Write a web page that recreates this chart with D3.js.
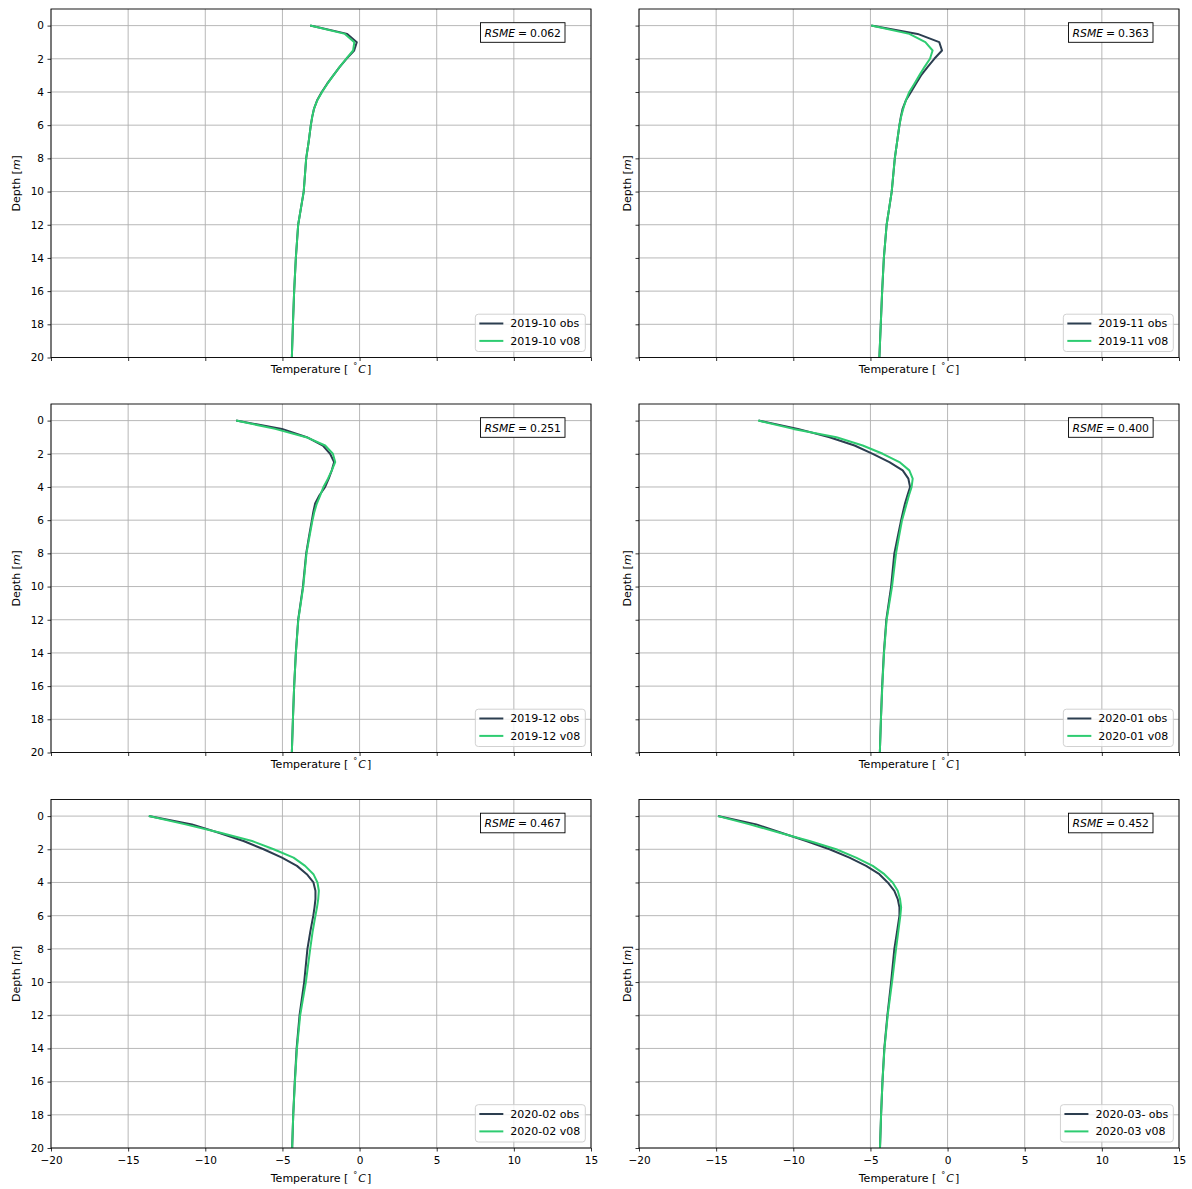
<!DOCTYPE html>
<html>
<head>
<meta charset="utf-8">
<script src="https://cdn.jsdelivr.net/npm/d3@7"></script>
<style>
  html, body { margin: 0; padding: 0; background: #fff; }
  svg { display: block; font-family: "DejaVu Sans", sans-serif; }
</style>
</head>
<body>
<svg id="chart" width="1192" height="1189"></svg>
<script>
// Sampling depths of the ground-temperature profiles (m)
const depths = [0, 0.5, 1, 1.5, 2, 2.5, 3, 3.5, 4, 4.5, 5, 5.5, 6, 7, 8, 10, 12, 14, 16, 18, 20];

// Monthly profiles: observed borehole temperatures and model run v08 (°C)
const months = ["2019-10", "2019-11", "2019-12", "2020-01", "2020-02", "2020-03"];
const obsLabels = ["2019-10 obs", "2019-11 obs", "2019-12 obs", "2020-01 obs", "2020-02 obs", "2020-03- obs"];
const modLabels = ["2019-10 v08", "2019-11 v08", "2019-12 v08", "2020-01 v08", "2020-02 v08", "2020-03 v08"];

const obs201910 = [-3.20, -0.80, -0.18, -0.35, -0.85, -1.30, -1.70, -2.10, -2.45, -2.75, -2.95, -3.07, -3.16, -3.30, -3.46, -3.62, -3.98, -4.13, -4.24, -4.32, -4.39];
const mod201910 = [-3.20, -0.95, -0.34, -0.42, -0.87, -1.30, -1.70, -2.08, -2.43, -2.74, -2.95, -3.07, -3.16, -3.30, -3.46, -3.62, -3.98, -4.13, -4.24, -4.32, -4.39];
const obs201911 = [-4.95, -1.94, -0.54, -0.36, -0.86, -1.30, -1.72, -2.05, -2.37, -2.70, -2.91, -3.03, -3.12, -3.27, -3.42, -3.62, -3.95, -4.13, -4.24, -4.33, -4.42];
const mod201911 = [-4.95, -2.48, -1.44, -0.97, -1.14, -1.50, -1.83, -2.15, -2.48, -2.70, -2.87, -3.01, -3.12, -3.27, -3.42, -3.62, -3.95, -4.13, -4.24, -4.33, -4.42];
const obs201912 = [-8.00, -5.03, -3.42, -2.38, -1.91, -1.65, -1.80, -2.00, -2.23, -2.60, -2.88, -3.00, -3.09, -3.28, -3.46, -3.67, -3.98, -4.13, -4.24, -4.32, -4.39];
const mod201912 = [-8.00, -5.47, -3.46, -2.23, -1.73, -1.58, -1.80, -2.05, -2.34, -2.55, -2.77, -2.93, -3.05, -3.25, -3.44, -3.65, -3.97, -4.13, -4.24, -4.32, -4.39];
const obs202001 = [-12.24, -9.70, -7.65, -6.03, -4.85, -3.77, -2.91, -2.54, -2.43, -2.60, -2.76, -2.89, -3.01, -3.23, -3.45, -3.66, -3.97, -4.13, -4.24, -4.32, -4.39];
const mod202001 = [-12.28, -10.00, -7.20, -5.50, -4.20, -3.12, -2.48, -2.26, -2.33, -2.50, -2.65, -2.80, -2.95, -3.15, -3.34, -3.60, -3.95, -4.12, -4.23, -4.32, -4.39];
const obs202002 = [-13.66, -10.86, -9.13, -7.52, -6.22, -5.03, -4.06, -3.42, -2.99, -2.86, -2.86, -2.92, -3.00, -3.20, -3.38, -3.59, -3.89, -4.08, -4.20, -4.30, -4.37];
const mod202002 = [-13.66, -11.29, -9.02, -6.97, -5.57, -4.28, -3.53, -2.99, -2.73, -2.64, -2.68, -2.76, -2.86, -3.05, -3.20, -3.48, -3.85, -4.06, -4.19, -4.30, -4.37];
const obs202003 = [-14.88, -12.40, -10.78, -9.16, -7.65, -6.36, -5.28, -4.42, -3.88, -3.45, -3.23, -3.12, -3.12, -3.28, -3.45, -3.66, -3.90, -4.10, -4.22, -4.31, -4.38];
const mod202003 = [-14.88, -12.83, -10.89, -8.95, -7.22, -5.93, -4.85, -4.10, -3.56, -3.23, -3.08, -3.01, -3.06, -3.20, -3.34, -3.60, -3.88, -4.09, -4.22, -4.31, -4.38];

const obsSeries = [obs201910, obs201911, obs201912, obs202001, obs202002, obs202003];
const modSeries = [mod201910, mod201911, mod201912, mod202001, mod202002, mod202003];
const rsmeValues = ["0.062", "0.363", "0.251", "0.400", "0.467", "0.452"];

// Axis ticks
const xTicks = [-20, -15, -10, -5, 0, 5, 10, 15];
const xTickLabels = ["\u221220", "\u221215", "\u221210", "\u22125", "0", "5", "10", "15"];
const yTicks = [0, 2, 4, 6, 8, 10, 12, 14, 16, 18, 20];

const obsColor = "#2c3e50";
const modColor = "#2ecc71";

const svg = d3.select("#chart");
const colX = [51, 639];
const rowY = [9, 404, 799.5];
const W = 540, H = 348.5;

const x = d3.scaleLinear().domain([-20, 15]).range([0, W]);
const y = d3.scaleLinear().domain([-1, 20]).range([0, H]);

months.forEach((m, i) => {
  const col = i % 2, row = Math.floor(i / 2);
  const g = svg.append("g").attr("transform", `translate(${colX[col]},${rowY[row]})`);

  // grid
  g.append("g").selectAll("line").data(xTicks).join("line")
    .attr("x1", d => x(d)).attr("x2", d => x(d)).attr("y1", 0).attr("y2", H)
    .attr("stroke", "#b0b0b0").attr("stroke-width", 0.9);
  g.append("g").selectAll("line").data(yTicks).join("line")
    .attr("x1", 0).attr("x2", W).attr("y1", d => y(d)).attr("y2", d => y(d))
    .attr("stroke", "#b0b0b0").attr("stroke-width", 0.9);

  // axes
  const xa = d3.axisBottom(x).tickValues(xTicks).tickSize(3.5).tickPadding(5)
    .tickFormat((d, k) => row === 2 ? xTickLabels[k] : "");
  const ya = d3.axisLeft(y).tickValues(yTicks).tickSize(3.5).tickPadding(3.5)
    .tickFormat(d => col === 0 ? String(d) : "");
  const gx = g.append("g").attr("transform", `translate(0,${H})`).call(xa);
  const gy = g.append("g").call(ya);
  [gx, gy].forEach(a => {
    a.select(".domain").remove();
    a.selectAll("line").attr("stroke", "#000").attr("stroke-width", 0.8);
    a.selectAll("text").attr("fill", "#000").style("font-size", "10.5px")
      .style("font-family", "'DejaVu Sans', sans-serif");
  });

  // profiles
  const line = d3.line().x(d => x(d[0])).y(d => y(d[1]));
  const clipId = "clip" + i;
  g.append("clipPath").attr("id", clipId).append("rect").attr("width", W).attr("height", H);
  g.append("path").datum(obsSeries[i].map((v, k) => [v, depths[k]]))
    .attr("clip-path", `url(#${clipId})`)
    .attr("d", line).attr("fill", "none").attr("stroke", obsColor).attr("stroke-width", 2)
    .attr("stroke-linejoin", "round");
  g.append("path").datum(modSeries[i].map((v, k) => [v, depths[k]]))
    .attr("clip-path", `url(#${clipId})`)
    .attr("d", line).attr("fill", "none").attr("stroke", modColor).attr("stroke-width", 2)
    .attr("stroke-linejoin", "round");

  // frame
  g.append("rect").attr("width", W).attr("height", H).attr("fill", "none")
    .attr("stroke", "#000").attr("stroke-width", 0.9);

  // axis labels
  const xl = g.append("text").attr("x", W / 2).attr("y", row === 2 ? H + 33.5 : H + 15)
    .attr("text-anchor", "middle").style("font-size", "11px").attr("fill", "#000");
  xl.append("tspan").text("Temperature [");
  xl.append("tspan").text("\u00b0").style("font-size", "8px").attr("dy", -4).attr("dx", 5);
  xl.append("tspan").text("C").style("font-style", "italic").attr("dy", 4).attr("dx", 1);
  xl.append("tspan").text("]").attr("dx", 1);

  const ylx = col === 0 ? -31.5 : -8.5;
  const yl = g.append("text").attr("transform", `translate(${ylx},${H / 2}) rotate(-90)`)
    .attr("text-anchor", "middle").style("font-size", "11px").attr("fill", "#000");
  yl.append("tspan").text("Depth [");
  yl.append("tspan").text("m").style("font-style", "italic");
  yl.append("tspan").text("]");

  // RSME annotation box
  const ann = g.append("g");
  const at = ann.append("text").attr("x", W - 30).attr("y", 27.5)
    .attr("text-anchor", "end").style("font-size", "10.8px").attr("fill", "#000");
  at.append("tspan").text("RSME").style("font-style", "italic");
  at.append("tspan").text("=").attr("dx", 3);
  at.append("tspan").text(rsmeValues[i]).attr("dx", 3);
  const bb = at.node().getBBox();
  ann.insert("rect", "text")
    .attr("x", bb.x - 4).attr("y", 13.7).attr("width", bb.width + 8).attr("height", 19.6)
    .attr("fill", "#fff").attr("stroke", "#000").attr("stroke-width", 0.9);

  // legend
  const leg = g.append("g");
  const labels = [obsLabels[i], modLabels[i]];
  const colors = [obsColor, modColor];
  const texts = labels.map((t, k) => leg.append("text").text(t)
    .style("font-size", "11px").attr("fill", "#000"));
  const tw = d3.max(texts, t => t.node().getComputedTextLength());
  const lw = 35 + tw + 5;
  const lh = 37.3;
  const lx = W - 5.7 - lw, ly = H - 6 - lh;
  leg.insert("rect", "text").attr("x", lx).attr("y", ly).attr("width", lw).attr("height", lh)
    .attr("rx", 3).attr("fill", "#fff").attr("fill-opacity", 0.8)
    .attr("stroke", "#cccccc").attr("stroke-width", 0.9);
  [9.3, 26.7].forEach((dy, k) => {
    leg.insert("line", "text").attr("x1", lx + 4).attr("x2", lx + 28)
      .attr("y1", ly + dy).attr("y2", ly + dy)
      .attr("stroke", colors[k]).attr("stroke-width", 2);
    texts[k].attr("x", lx + 35).attr("y", ly + dy + 3.9);
  });
});
</script>
</body>
</html>
